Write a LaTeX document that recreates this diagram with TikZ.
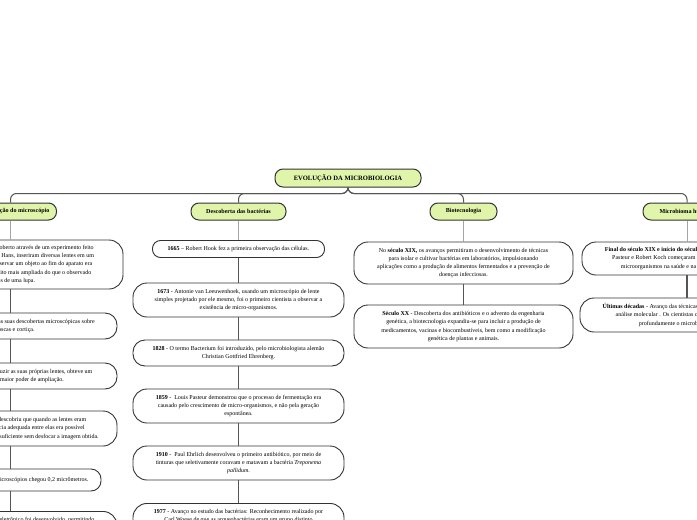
\documentclass[tikz,border=0pt]{standalone}
\usepackage{fontspec}
\setmainfont{Liberation Serif}
\definecolor{mmgreen}{RGB}{224,245,170}
\definecolor{mmline}{RGB}{85,85,85}
\definecolor{mmlight}{RGB}{165,165,165}
\definecolor{mmborder}{RGB}{51,51,51}
\begin{document}
\begin{tikzpicture}[x=1pt,y=-1pt,
  ttl/.style={draw=mmborder,line width=1pt,fill=mmgreen,rounded corners=8pt,font=\bfseries\fontsize{6.6}{7.5}\selectfont,inner sep=0pt,minimum height=18pt},
  topic/.style={draw=mmborder,line width=1pt,fill=mmgreen,rounded corners=8pt,font=\bfseries\fontsize{6.1}{7}\selectfont,inner sep=0pt,minimum height=17pt},
  leaf/.style={draw=mmborder,line width=0.9pt,fill=white,rounded corners=13pt,align=center,font=\fontsize{6}{8.2}\selectfont,inner sep=0pt},
  bus/.style={draw=mmline,line width=1pt,rounded corners=6pt},
  firstlink/.style={draw=mmlight,line width=1pt},
  chainlink/.style={draw=mmline,line width=1.2pt}]
\useasboundingbox (0,0) rectangle (697,520);
\clip (0,0) rectangle (697,520);

% title and topics
\node[ttl,minimum width=146pt] (title) at (348,178) {EVOLUÇÃO DA MICROBIOLOGIA};
\node[topic,anchor=east,inner xsep=7pt] (t1) at (57,211.5) {Invenção do microscópio};
\node[topic,minimum width=95pt] (t2) at (238.5,211.5) {Descoberta das bactérias};
\node[topic,minimum width=67pt] (t3) at (463.5,211.5) {Biotecnologia};
\node[topic,minimum width=88pt] (t4) at (687,211.5) {Microbioma humano};

% column 1
\node[leaf,minimum width=225pt,minimum height=49pt,rounded corners=14pt] (c1a) at (10.5,264.5)
 {O microscópio óptico foi descoberto através de um experimento feito\\
  por Zacharias Jansen e seu pai Hans, inseriram diversas lentes em um\\
  tubo e descobriram que ao observar um objeto ao fim do aparato era\\
  possível ver uma imagem muito mais ampliada do que o observado\\
  através de uma lupa.};
\node[leaf,minimum width=213pt,minimum height=26pt,rounded corners=12pt] (c1b) at (10.5,326)
 {Em 1665, R. Hooke publicou as suas descobertas microscópicas sobre\\
  de moscas e cortiça.};
\node[leaf,minimum width=213pt,minimum height=26pt,rounded corners=12pt] (c1c) at (10.5,376)
 {Anton Leeuwenhoek, ao produzir as suas próprias lentes, obteve um\\
  microscópio com maior poder de ampliação.};
\node[leaf,minimum width=213pt,minimum height=35pt,rounded corners=14pt] (c1d) at (10.5,428.5)
 {Em 1830, Joseph J. Lister descobriu que quando as lentes eram\\
  posicionadas a uma distância adequada entre elas era possível\\
  aumentar a ampliação de forma suficiente sem desfocar a imagem obtida.};
\node[leaf,minimum width=181pt,minimum height=22pt,rounded corners=10pt] (c1e) at (10.5,480)
 {O limite de resolução dos microscópios chegou 0,2 micrômetros.};
\node[leaf,minimum width=213pt,anchor=north,inner ysep=6pt,text depth=20pt,rounded corners=14pt] (c1f) at (10.5,511)
 {No século XX, o microscópio eletrônico foi desenvolvido, permitindo};

% column 2
\node[leaf,minimum width=172pt,minimum height=17pt,rounded corners=8pt] (d1) at (238.5,249)
 {\textbf{1665} – Robert Hook fez a primeira observação das células.};
\node[leaf,minimum width=211pt,minimum height=34pt,rounded corners=14pt] (d2) at (238.5,300)
 {\textbf{1673} - Antonie van Leeuwenhoek, usando um microscópio de lente\\
  simples projetado por ele mesmo, foi o primeiro cientista a observar a\\
  existência de micro-organismos.};
\node[leaf,minimum width=211pt,minimum height=26pt,rounded corners=12pt] (d3) at (238.5,353)
 {\textbf{1828} - O termo Bacterium foi introduzido, pelo microbiologista alemão\\
  Christian Gottfried Ehrenberg.};
\node[leaf,minimum width=211pt,minimum height=34pt,rounded corners=14pt] (d4) at (238.5,406)
 {\textbf{1859} -\ \ Louis Pasteur demonstrou que o processo de fermentação era\\
  causado pelo crescimento de micro-organismos, e não pela geração\\
  espontânea.};
\node[leaf,minimum width=211pt,minimum height=34pt,rounded corners=14pt] (d5) at (238.5,463)
 {\textbf{1910} -\ \ Paul Ehrlich desenvolveu o primeiro antibiótico, por meio de\\
  tinturas que seletivamente coravam e matavam a bactéria \textit{Treponema}\\
  \textit{pallidum}.};
\node[leaf,minimum width=211pt,anchor=north,inner ysep=6pt,text depth=22pt,rounded corners=14pt] (d6) at (238.5,503)
 {\textbf{1977} - Avanço no estudo das bactérias: Reconhecimento realizado por\\
  Carl Woese de que as arqueobactérias eram um grupo distinto};

% column 3
\node[leaf,minimum width=219pt,minimum height=42pt,rounded corners=14pt] (b1) at (463.5,263)
 {No \textbf{século XIX,} os avanços permitiram o desenvolvimento de técnicas\\
  para isolar e cultivar bactérias em laboratórios, impulsionando\\
  aplicações como a produção de alimentos fermentados e a prevenção de\\
  doenças infecciosas.};
\node[leaf,minimum width=219pt,minimum height=43pt,rounded corners=14pt] (b2) at (463.5,326.5)
 {\textbf{Século XX} - Descoberta dos antibióticos e o advento da engenharia\\
  genética, a biotecnologia expandiu-se para incluir a produção de\\
  medicamentos, vacinas e biocombustíveis, bem como a modificação\\
  genética de plantas e animais.};

% column 4
\node[leaf,minimum width=210pt,minimum height=33pt,rounded corners=14pt] (m1) at (687,258.5)
 {\textbf{Final do século XIX e início do século XX} - Cientistas como Louis\\
  Pasteur e Robert Koch começaram a estudar a relação entre os\\
  microorganismos na saúde e na doença do ser humano.};
\node[leaf,minimum width=214pt,minimum height=34pt,rounded corners=14pt] (m2) at (687,315)
 {\textbf{Últimas décadas} - Avanço das técnicas de sequenciamento genético e\\
  análise molecular . Os cientistas começaram a estudar mais\\
  profundamente o microbioma intestinal.};

% connectors from title
\draw[bus] (title.south) -- ++(0,6) -| (c1a.north |- t1.north);
\foreach \t in {t2,t3,t4}
  \draw[bus] (title.south) -- ++(0,6) -| (\t.north);

% topic to first leaf
\draw[firstlink] (c1a.north |- t1.south) -- (c1a.north);
\draw[firstlink] (t2.south) -- (d1.north);
\draw[firstlink] (t3.south) -- (b1.north);
\draw[firstlink] (t4.south) -- (m1.north);

% leaf chains
\draw[chainlink] (c1a.south) -- (c1b.north);
\draw[chainlink] (c1b.south) -- (c1c.north);
\draw[chainlink] (c1c.south) -- (c1d.north);
\draw[chainlink] (c1d.south) -- (c1e.north);
\draw[chainlink] (c1e.south) -- (c1f.north);
\draw[chainlink] (d1.south) -- (d2.north);
\draw[chainlink] (d2.south) -- (d3.north);
\draw[chainlink] (d3.south) -- (d4.north);
\draw[chainlink] (d4.south) -- (d5.north);
\draw[chainlink] (d5.south) -- (d6.north);
\draw[chainlink] (b1.south) -- (b2.north);
\draw[chainlink] (m1.south) -- (m2.north);
\end{tikzpicture}
\end{document}
